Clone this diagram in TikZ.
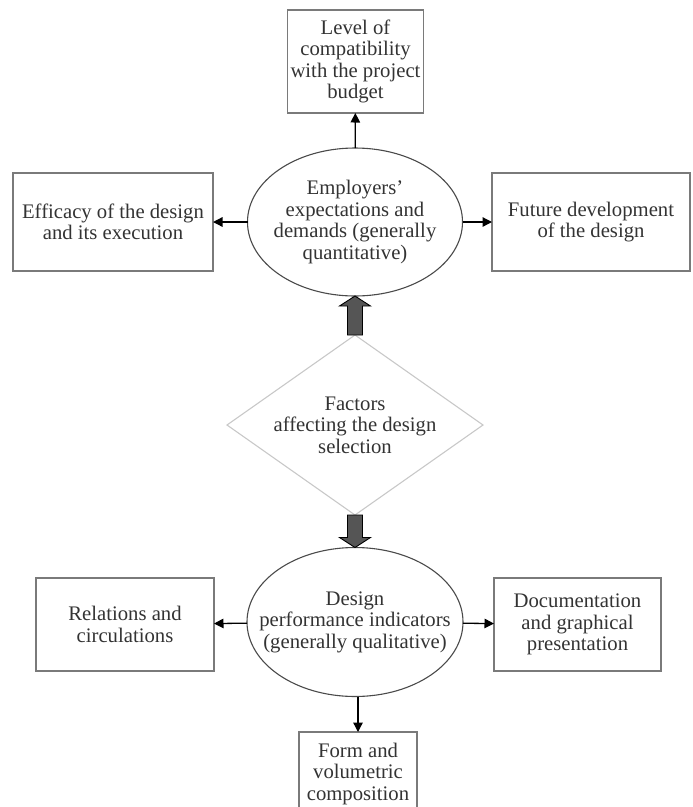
\documentclass[tikz,border=0pt]{standalone}
\usepackage{fontspec}
\setmainfont{Liberation Serif}
\usetikzlibrary{arrows.meta,shapes.geometric,positioning,calc}
\definecolor{txtgray}{HTML}{333333}
\definecolor{boxgray}{HTML}{7A7A7A}
\definecolor{ellgray}{HTML}{4A4A4A}
\definecolor{diagray}{HTML}{C8C8C8}
\definecolor{fatgray}{HTML}{555555}
\tikzset{every picture/.style={line width=0.75pt}}
\tikzset{
  fbox/.style={draw=boxgray, line width=1.1pt, align=center, text=txtgray,
    outer sep=0pt, font=\fontsize{20.7}{21.5}\selectfont},
  goal/.style={ellipse, draw=ellgray, line width=1.1pt, align=center, text=txtgray,
    outer sep=0pt, inner sep=-25pt, font=\fontsize{20.7}{21.5}\selectfont},
  factor/.style={diamond, aspect=1.42, draw=diagray, line width=1.1pt, align=center,
    text=txtgray, outer sep=0pt, inner sep=0pt, font=\fontsize{20.7}{21.5}\selectfont},
  arr/.style={-{Triangle[length=9.5pt,width=9.5pt]}, line width=1.3pt, black},
  fatarrow/.style={draw=black, fill=fatgray, line width=0.9pt, line join=miter}
}

\begin{document}
\begin{tikzpicture}[x=1pt, y=-1pt]
    \useasboundingbox (0,0) rectangle (693,807);

    % upper part
    \node[goal, minimum width=215pt, minimum height=148pt] (emp) at (355,222)
        {Employers'\\expectations and\\demands (generally\\quantitative)};
    \node[fbox, minimum width=135pt, minimum height=103pt] (budget) at (355.5,61.5)
        {Level of\\compatibility\\with the project\\budget};
    \node[fbox, minimum width=200pt, minimum height=98pt] (eff) at (113,222)
        {Efficacy of the design\\and its execution};
    \node[fbox, minimum width=198pt, minimum height=98pt] (fut) at (591,222)
        {Future development\\of the design};

    \draw[arr] (emp) -- (budget);
    \draw[arr] (emp) -- (eff);
    \draw[arr] (emp) -- (fut);

    % middle
    \node[factor, minimum width=256pt, minimum height=180pt] (dia) at (355,425)
        {Factors\\affecting the design\\selection};

    % lower part
    \node[goal, minimum width=216pt, minimum height=149pt] (perf) at (355,622)
        {Design\\performance indicators\\(generally qualitative)};
    \node[fbox, minimum width=178pt, minimum height=93pt] (rel) at (125,624.5)
        {Relations and\\circulations};
    \node[fbox, minimum width=167pt, minimum height=93pt] (doc) at (577.5,624.5)
        {Documentation\\and graphical\\presentation};
    \node[fbox, minimum width=118pt, minimum height=84pt, anchor=north] (form) at (358,732)
        {Form and\\volumetric\\composition};

    \draw[arr] (perf) -- (rel);
    \draw[arr] (perf) -- (doc);
    \draw[arr] (perf.south -| form.north) -- (form.north);

    % thick arrows
    \draw[fatarrow] ($(dia.north)+(-7.5,0)$) -- ($(emp.south)+(-7.5,10)$)
        -- ($(emp.south)+(-15.5,10)$) -- (emp.south) -- ($(emp.south)+(15.5,10)$)
        -- ($(emp.south)+(7.5,10)$) -- ($(dia.north)+(7.5,0)$) -- cycle;
    \draw[fatarrow] ($(dia.south)+(-7.5,0)$) -- ($(perf.north)+(-7.5,-10)$)
        -- ($(perf.north)+(-15.5,-10)$) -- (perf.north) -- ($(perf.north)+(15.5,-10)$)
        -- ($(perf.north)+(7.5,-10)$) -- ($(dia.south)+(7.5,0)$) -- cycle;
\end{tikzpicture}
\end{document}
